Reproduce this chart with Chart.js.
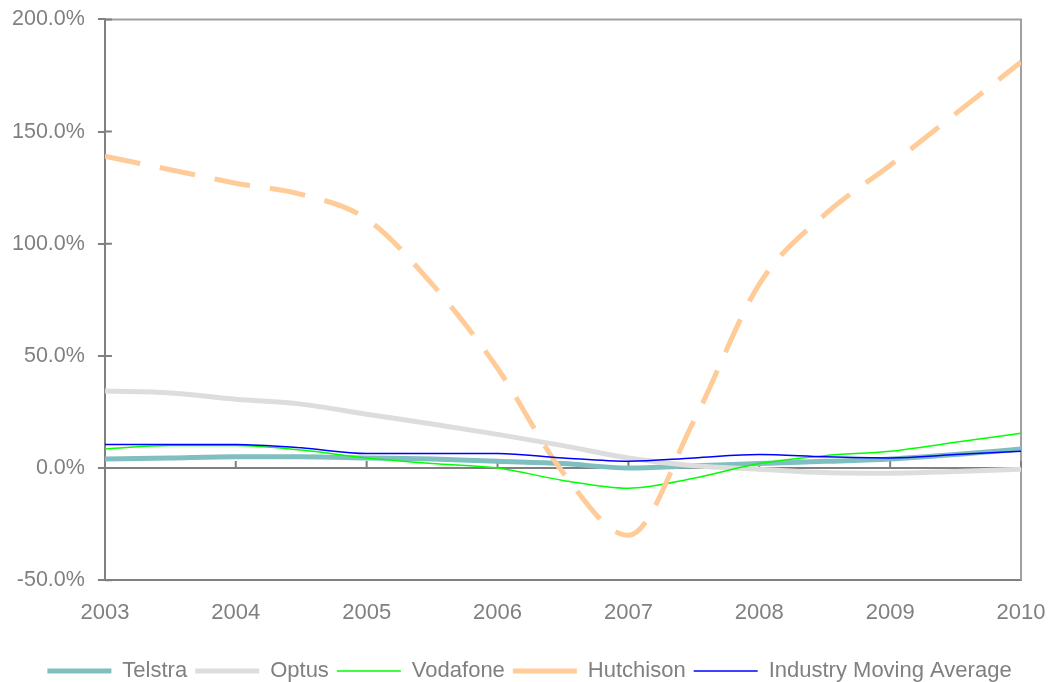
<!DOCTYPE html>
<html>
<head>
<meta charset="utf-8">
<script src="https://cdn.jsdelivr.net/npm/chart.js@4"></script>
<style>
  html, body { margin: 0; padding: 0; background: #fff; }
  #wrap { width: 1062px; height: 682px; }
</style>
</head>
<body>
<div id="wrap"><canvas id="myChart"></canvas></div>
<script>
// half-year points, 2003 .. 2010
const years = [2003, 2003.5, 2004, 2004.5, 2005, 2005.5, 2006, 2006.5, 2007, 2007.5, 2008, 2008.5, 2009, 2009.5, 2010];

const telstra   = [4, 4.5, 5, 5, 4.5, 4, 3, 2, 0, 1, 2, 3, 4, 6, 8.5];
const optus     = [34.3, 33.5, 30.7, 28.5, 24, 19.6, 15, 10, 4.5, 1, -0.5, -2, -2.3, -1.5, -0.5];
const vodafone  = [8.5, 10, 10, 8, 4.5, 2, 0, -5.5, -9, -4.5, 2, 5.5, 7.5, 11.5, 15.5];
const hutchison = [139, 133, 127, 122, 111, 82, 44.5, -2, -30, 21, 82, 113, 135, 158, 181];
const industry  = [10.5, 10.5, 10.5, 9, 6.5, 6.5, 6.5, 4.5, 3, 4.5, 6, 5, 4.5, 6, 7.5];

const seriesNames = ["Telstra", "Optus", "Vodafone", "Hutchison", "Industry Moving Average"];

const gray = "#808080";
const family = "'Liberation Sans', Arial, sans-serif";

const toPoints = (vals) => vals.map((v, i) => ({ x: years[i], y: v }));

// frame on top/right, zero line, year ticks on it, inner half of the y ticks
const framePlugin = {
  id: "frame",
  afterLayout(chart) {
    // legend sits centred on the page, not on the plot
    chart.legend.left += 16;
    chart.legend.right += 16;
  },
  beforeDatasetsDraw(chart) {
    const { ctx, chartArea: a, scales } = chart;
    ctx.save();
    ctx.strokeStyle = "#a0a0a0";
    ctx.lineWidth = 2;
    ctx.beginPath();
    ctx.moveTo(a.left, a.top);
    ctx.lineTo(a.right, a.top);
    ctx.lineTo(a.right, a.bottom);
    ctx.stroke();

    const y0 = scales.y.getPixelForValue(0);
    ctx.strokeStyle = gray;
    ctx.beginPath();
    ctx.moveTo(a.left, y0);
    ctx.lineTo(a.right, y0);
    for (let yr = 2004; yr <= 2010; yr++) {
      const x = scales.x.getPixelForValue(yr);
      ctx.moveTo(x, y0);
      ctx.lineTo(x, y0 - 7);
    }
    scales.y.ticks.forEach((t) => {
      const y = scales.y.getPixelForValue(t.value);
      ctx.moveTo(a.left, y);
      ctx.lineTo(a.left + 7, y);
    });
    ctx.stroke();
    ctx.restore();
  },
};

const ctx = document.getElementById("myChart");

const chart = new Chart(ctx, {
  type: "line",
  data: {
    // reversed so Industry is drawn on top, legend flips it back
    datasets: [
      {
        label: seriesNames[4],
        data: toPoints(industry),
        borderColor: "#0000ff",
        borderWidth: 1.5,
      },
      {
        label: seriesNames[3],
        data: toPoints(hutchison),
        borderColor: "#ffcc99",
        borderWidth: 5,
        borderDash: [36, 20],
      },
      {
        label: seriesNames[2],
        data: toPoints(vodafone),
        borderColor: "#00ff00",
        borderWidth: 1.5,
      },
      {
        label: seriesNames[1],
        data: toPoints(optus),
        borderColor: "#dddddd",
        borderWidth: 5,
      },
      {
        label: seriesNames[0],
        data: toPoints(telstra),
        borderColor: "#7fbfbf",
        borderWidth: 5,
      },
    ],
  },
  options: {
    responsive: true,
    maintainAspectRatio: false,
    animation: false,
    layout: { padding: { left: -1, right: 34, top: 0, bottom: -10 } },
    elements: {
      point: { radius: 0 },
      line: { cubicInterpolationMode: "monotone", fill: false },
    },
    scales: {
      x: {
        type: "linear",
        min: 2003,
        max: 2010,
        grid: { display: false, drawTicks: false },
        border: { color: gray, width: 2 },
        afterFit: (scale) => { scale.height += 5.8; },
        ticks: {
          stepSize: 1,
          padding: 16.5,
          color: gray,
          font: { family: family, size: 22, lineHeight: 1.5 },
          callback: (v) => String(v),
        },
      },
      y: {
        min: -50,
        max: 200,
        grid: { drawOnChartArea: false, drawTicks: true, tickLength: 7, color: gray, lineWidth: 2 },
        border: { color: gray, width: 2 },
        ticks: {
          stepSize: 50,
          padding: 13,
          color: gray,
          font: { family: family, size: 21.5, lineHeight: 0.6 },
          callback: (v) => v.toFixed(1) + "%",
        },
      },
    },
    plugins: {
      tooltip: { enabled: false },
      legend: {
        position: "bottom",
        reverse: true,
        labels: {
          color: gray,
          font: { family: family, size: 22 },
          usePointStyle: true,
          pointStyle: "line",
          pointStyleWidth: 64,
          padding: 8,
        },
      },
    },
  },
  plugins: [framePlugin],
});
</script>
</body>
</html>
